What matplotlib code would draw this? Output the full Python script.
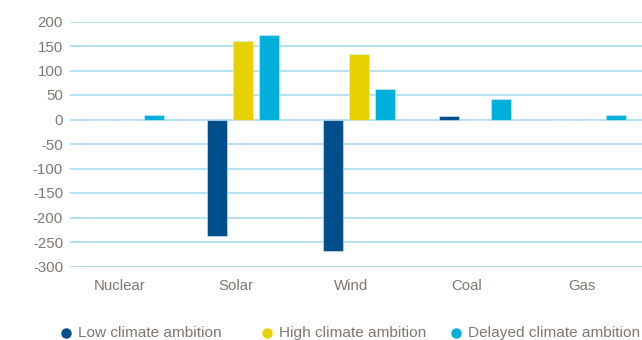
import numpy as np
import matplotlib.pyplot as plt
from matplotlib.lines import Line2D
import matplotlib.transforms as mtransforms

# change in capacity per technology, by scenario
categories = ['Nuclear', 'Solar', 'Wind', 'Coal', 'Gas']
low_ambition = [0, -238, -268, 7, -2]
high_ambition = [0, 160, 134, 0, -1]
delayed_ambition = [10, 172, 62, 42, 10]
series_names = ['Low climate ambition', 'High climate ambition', 'Delayed climate ambition']
colors = ['#004f8a', '#e5d200', '#00b0dc']

plt.rcParams['font.family'] = ['Liberation Sans', 'DejaVu Sans']
plt.rcParams['axes.unicode_minus'] = False

fig = plt.figure(figsize=(6.42, 3.4), dpi=100)
ax = fig.add_axes([70 / 642, 73.5 / 340, 578 / 642, 245 / 340])

x = np.arange(len(categories))
w = 20 / 115.6
step = 26 / 115.6
for i, vals in enumerate([low_ambition, high_ambition, delayed_ambition]):
  ax.bar(x + (i - 1) * step, vals, width=w, color=colors[i], edgecolor='#d6eef8', linewidth=0.4, zorder=3)

ax.set_xlim(-0.5, 4.5)
ax.set_ylim(-300, 200)
ax.set_yticks(np.arange(-300, 201, 50))
ax.yaxis.grid(True, color='#a8dcef', linewidth=1.2, zorder=0)
ax.set_axisbelow(True)
for s in ax.spines.values():
  s.set_visible(False)
ax.tick_params(axis='both', length=0, colors='#7f7770', labelsize=10.8)
ax.tick_params(axis='y', pad=5)
ax.tick_params(axis='x', pad=9)
ax.set_xticks(x)
ax.set_xticklabels(categories)
offset = mtransforms.ScaledTranslation(-8 / 100, 0, fig.dpi_scale_trans)
for lab in ax.get_xticklabels():
  lab.set_transform(lab.get_transform() + offset)

# legend entries sit at their own spots along the bottom
legend_x = [66, 267, 456]
for name, c, lx in zip(series_names, colors, legend_x):
  fig.add_artist(Line2D([lx / 642], [7 / 340], marker='o', linestyle='', color=c, markersize=6.5,
                        transform=fig.transFigure))
  fig.text((lx + 12) / 642, 7 / 340, name, color='#7f7770', fontsize=11.1, va='center', ha='left')

fig.savefig('out.png', dpi=100)
